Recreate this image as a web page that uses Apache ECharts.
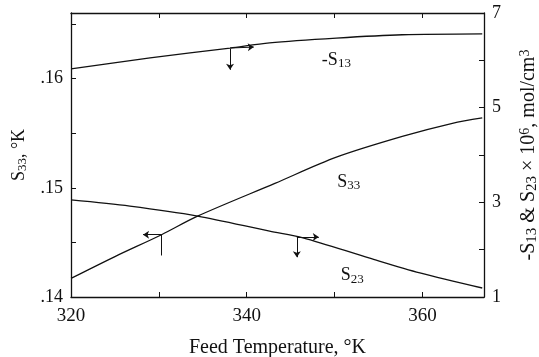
<!DOCTYPE html>
<html>
<head>
<meta charset="utf-8">
<script src="https://cdn.jsdelivr.net/npm/echarts@6/dist/echarts.min.js"></script>
<style>
  html, body { margin: 0; padding: 0; background: #fff; }
  #chart { width: 539px; height: 357px; }
</style>
</head>
<body>
<div id="chart"></div>
<script>
// 数据
// -S13 (右轴, ×10^6 mol/cm^3)
const s13Temp = [320, 329.0, 338.1, 342.6, 350.2, 357.7, 366.8];
const s13Val = [5.82, 6.05, 6.26, 6.37, 6.47, 6.54, 6.56];
// S33 (左轴, °K)
const s33Temp = [320, 325, 330.3, 334.4, 343.2, 350.2, 357.7, 363.4, 366.8];
const s33Val = [0.1417, 0.1437, 0.1457, 0.1474, 0.1504, 0.1528, 0.1547, 0.1559, 0.1564];
// S23 (右轴)
const s23Temp = [320, 326.7, 334.4, 342.6, 346.4, 354.0, 359.7, 366.8];
const s23Val = [3.05, 2.92, 2.71, 2.39, 2.25, 1.82, 1.51, 1.19];

// 坐标轴标签
const xLabels = [320, 340, 360];
const leftLabels = [0.14, 0.15, 0.16];
const rightLabels = [1, 3, 5, 7];

const zip = (a, b) => a.map((t, i) => [t, b[i]]);
const near = (v, list) => list.some(x => Math.abs(v - x) < 1e-6);

const FONT = "'Liberation Serif', 'DejaVu Serif', serif";
const INK = '#111';
// 下标 / 上标用富文本
function makeRich(size) {
    return {
        n: { fontFamily: FONT, fontSize: size, color: INK, lineHeight: size + 2, verticalAlign: 'middle' },
        sub: { fontFamily: FONT, fontSize: size - 5, color: INK, lineHeight: 11, verticalAlign: 'bottom' },
        sup: { fontFamily: FONT, fontSize: size - 6, color: INK, lineHeight: 11, verticalAlign: 'top' }
    };
}
const rich = makeRich(18);
const richBig = makeRich(20);

const axisLine = { show: true, lineStyle: { color: INK, width: 1.3 } };
const axisTick = { show: true, inside: true, length: 5, lineStyle: { color: INK, width: 1 } };

const chart = echarts.init(document.getElementById('chart'), null, { renderer: 'canvas' });

const lineBase = {
    type: 'line',
    smooth: 0.3,
    showSymbol: false,
    symbol: 'none',
    lineStyle: { color: INK, width: 1.3 },
    silent: true
};

// 标注用的箭头线（数据坐标）
function arrowLines(items) {
    return {
        silent: true,
        symbol: 'none',
        symbolSize: 6,
        label: { show: false },
        lineStyle: { color: INK, width: 1, type: 'solid' },
        emphasis: { disabled: true },
        data: items
    };
}
function textMark(coord, text) {
    return {
        silent: true,
        symbol: 'circle',
        symbolSize: 0,
        label: { show: true, position: 'inside', formatter: text, rich: rich },
        data: [{ coord: coord, value: 0 }]
    };
}

chart.setOption({
    animation: false,
    grid: { left: 71, right: 55, top: 13, bottom: 60, outerBoundsMode: 'none', containLabel: false },
    xAxis: [{
        type: 'value',
        min: 320, max: 367, interval: 10,
        axisLine, axisTick,
        splitLine: { show: false },
        axisLabel: {
            fontFamily: FONT, fontSize: 19, color: INK, margin: 10,
            formatter: v => near(v, xLabels) ? String(v) : ''
        },
        name: 'Feed Temperature, °K',
        nameLocation: 'middle',
        nameGap: 41,
        nameTextStyle: { fontFamily: FONT, fontSize: 20, color: INK }
    }, {
        type: 'value', position: 'top',
        min: 320, max: 367, interval: 10,
        axisLine, axisTick,
        splitLine: { show: false },
        axisLabel: { show: false }
    }],
    yAxis: [{
        type: 'value', position: 'left',
        min: 0.14, max: 0.166, interval: 0.005,
        axisLine, axisTick,
        splitLine: { show: false },
        axisLabel: {
            fontFamily: FONT, fontSize: 18, color: INK, margin: 8,
            formatter: v => near(v, leftLabels) ? '.' + Math.round(v * 100) : ''
        },
        name: '{n|S}{sub|33}{n|, °K}',
        nameLocation: 'middle',
        nameRotate: 90,
        nameGap: 42,
        nameTextStyle: { rich: rich }
    }, {
        type: 'value', position: 'right',
        min: 1, max: 7, interval: 1,
        axisLine, axisTick,
        splitLine: { show: false },
        axisLabel: {
            fontFamily: FONT, fontSize: 18, color: INK, margin: 8,
            formatter: v => near(v, rightLabels) ? String(v) : ''
        },
        name: '{n|-S}{sub|13}{n| & S}{sub|23}{n| × 10}{sup|6}{n|, mol/cm}{sup|3}',
        nameLocation: 'middle',
        nameRotate: 90,
        nameGap: 34,
        nameTextStyle: { rich: richBig }
    }],
    series: [
        Object.assign({}, lineBase, {
            name: '-S13', yAxisIndex: 1,
            data: zip(s13Temp, s13Val),
            markLine: arrowLines([
                [{ coord: [338.1, 6.26], symbol: 'none' }, { coord: [340.8, 6.28], symbol: 'arrow' }],
                [{ coord: [338.1, 6.24], symbol: 'none' }, { coord: [338.1, 5.80], symbol: 'arrow' }]
            ]),
            markPoint: textMark([350.2, 6.0], '{n|-S}{sub|13}')
        }),
        Object.assign({}, lineBase, {
            name: 'S33', yAxisIndex: 0,
            data: zip(s33Temp, s33Val),
            markLine: arrowLines([
                [{ coord: [330.3, 0.1457], symbol: 'none' }, { coord: [328.2, 0.1457], symbol: 'arrow' }],
                [{ coord: [330.3, 0.1457], symbol: 'none' }, { coord: [330.3, 0.1438], symbol: 'none' }]
            ]),
            markPoint: textMark([351.6, 0.1505], '{n|S}{sub|33}')
        }),
        Object.assign({}, lineBase, {
            name: 'S23', yAxisIndex: 1,
            data: zip(s23Temp, s23Val),
            markLine: arrowLines([
                [{ coord: [345.7, 2.27], symbol: 'none' }, { coord: [348.2, 2.27], symbol: 'arrow' }],
                [{ coord: [345.7, 2.25], symbol: 'none' }, { coord: [345.7, 1.84], symbol: 'arrow' }]
            ]),
            markPoint: textMark([352.0, 1.45], '{n|S}{sub|23}')
        })
    ]
});
</script>
</body>
</html>
